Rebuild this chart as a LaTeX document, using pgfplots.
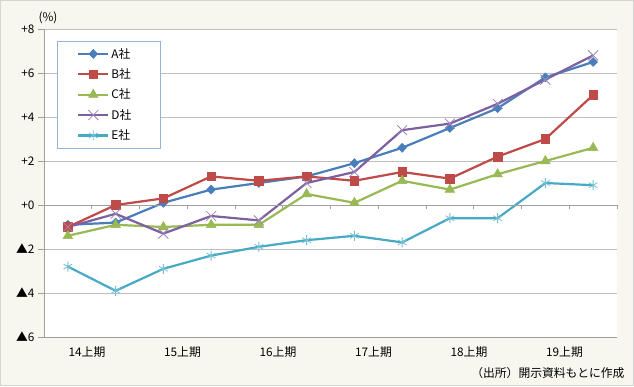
\documentclass[border=0pt]{standalone}
\usepackage{pgfplots}
\pgfplotsset{compat=1.18}
\usepackage{fontspec}
\setmainfont{Noto Sans CJK JP}
\definecolor{bgc}{HTML}{F7F7EF}
\definecolor{bordc}{HTML}{D4D4D0}
\definecolor{gridgray}{HTML}{BEBEBE}
\definecolor{axgray}{HTML}{A0A0A0}
\definecolor{legb}{HTML}{95B3D7}
\definecolor{cA}{HTML}{4A7EBB}
\definecolor{cB}{HTML}{BE4B48}
\definecolor{cC}{HTML}{98B954}
\definecolor{cD}{HTML}{7D60A0}
\definecolor{cE}{HTML}{46AAC5}
\newcommand{\lf}{\fontsize{11.8bp}{13bp}\selectfont}
\begin{document}
\begin{tikzpicture}[x=1bp,y=1bp]
\useasboundingbox (0,0) rectangle (634,386);
\fill[bgc] (0,0) rectangle (634,386);
\draw[bordc] (0.5,0.5) rectangle (633.5,385.5);
\begin{axis}[
  at={(44bp,49bp)}, anchor=south west,
  scale only axis, width=573bp, height=308bp,
  xmin=-0.5, xmax=11.5, ymin=-6, ymax=8,
  axis background/.style={fill=white},
  axis x line*=bottom, axis y line*=left,
  axis line style={draw=axgray, line width=0.8bp},
  xtick={0.4,2.4,4.4,6.4,8.4,10.4},
  xticklabels={14上期,15上期,16上期,17上期,18上期,19上期},
  ytick={-6,-4,...,8},
  yticklabels={▲6,▲4,▲2,+0,+2,+4,+6,+8},
  ymajorgrids, grid style={gridgray, line width=0.8bp},
  x tick style={draw=none},
  y tick style={axgray, line width=0.8bp},
  tick align=outside, major tick length=6bp,
  tick label style={font=\lf, text=black},
  clip=false,
  legend image code/.code={\draw[mark repeat=2,mark phase=2,#1] plot coordinates {(0bp,0bp)(15bp,0bp)(30bp,0bp)};},
  legend style={at={(0,1)}, anchor=north west, xshift=13bp, yshift=-12bp,
    draw=legb, fill=white, font=\lf, text=black, inner xsep=20bp, inner ysep=5bp,
    row sep=5bp},
  legend cell align=left,
  every axis plot/.append style={line width=2.2bp},
]
\addplot[cA, mark=diamond*, mark size=4.5bp, mark options={xscale=1.3, line width=0.5bp, fill=cA}] coordinates {
(0,-0.9)(1,-0.8)(2,0.1)(3,0.7)(4,1.0)(5,1.3)(6,1.9)(7,2.6)(8,3.5)(9,4.4)(10,5.8)(11,6.5)};
\addlegendentry{\makebox[27bp][l]{A社}}
\addplot[cB, mark=square*, mark size=4.3bp, mark options={line width=0.5bp, fill=cB}] coordinates {
(0,-1.0)(1,0.0)(2,0.3)(3,1.3)(4,1.1)(5,1.3)(6,1.1)(7,1.5)(8,1.2)(9,2.2)(10,3.0)(11,5.0)};
\addlegendentry{\makebox[27bp][l]{B社}}
\addplot[cC, mark=triangle*, mark size=5.5bp, mark options={line width=0.5bp, fill=cC}] coordinates {
(0,-1.4)(1,-0.9)(2,-1.0)(3,-0.9)(4,-0.9)(5,0.5)(6,0.1)(7,1.1)(8,0.7)(9,1.4)(10,2.0)(11,2.6)};
\addlegendentry{\makebox[27bp][l]{C社}}
\addplot[cD, mark=x, mark size=7bp, mark options={line width=0.8bp, cD!75}] coordinates {
(0,-1.0)(1,-0.4)(2,-1.3)(3,-0.5)(4,-0.7)(5,1.0)(6,1.5)(7,3.4)(8,3.7)(9,4.6)(10,5.7)(11,6.8)};
\addlegendentry{\makebox[27bp][l]{D社}}
\addplot[cE, mark=asterisk, mark size=5bp, mark options={line width=0.8bp, cE!75}] coordinates {
(0,-2.8)(1,-3.9)(2,-2.9)(3,-2.3)(4,-1.9)(5,-1.6)(6,-1.4)(7,-1.7)(8,-0.6)(9,-0.6)(10,1.0)(11,0.9)};
\addlegendentry{\makebox[27bp][l]{E社}}
\draw[axgray, line width=0.8bp] (axis cs:-0.5,0) -- (axis cs:11.5,0);
\draw[axgray, line width=0.8bp] (axis cs:0.5,0) -- ++(0pt,-4bp);
\draw[axgray, line width=0.8bp] (axis cs:1.5,0) -- ++(0pt,-4bp);
\draw[axgray, line width=0.8bp] (axis cs:2.5,0) -- ++(0pt,-4bp);
\draw[axgray, line width=0.8bp] (axis cs:3.5,0) -- ++(0pt,-4bp);
\draw[axgray, line width=0.8bp] (axis cs:4.5,0) -- ++(0pt,-4bp);
\draw[axgray, line width=0.8bp] (axis cs:5.5,0) -- ++(0pt,-4bp);
\draw[axgray, line width=0.8bp] (axis cs:6.5,0) -- ++(0pt,-4bp);
\draw[axgray, line width=0.8bp] (axis cs:7.5,0) -- ++(0pt,-4bp);
\draw[axgray, line width=0.8bp] (axis cs:8.5,0) -- ++(0pt,-4bp);
\draw[axgray, line width=0.8bp] (axis cs:9.5,0) -- ++(0pt,-4bp);
\draw[axgray, line width=0.8bp] (axis cs:10.5,0) -- ++(0pt,-4bp);
\draw[axgray, line width=0.8bp] (axis cs:11.5,0) -- ++(0pt,-4bp);
\end{axis}
\node[font=\lf, text=black] at (48,368) {(\%)};
\node[font=\lf, text=black, anchor=east] at (628,13) {（出所）開示資料もとに作成};
\end{tikzpicture}
\end{document}
